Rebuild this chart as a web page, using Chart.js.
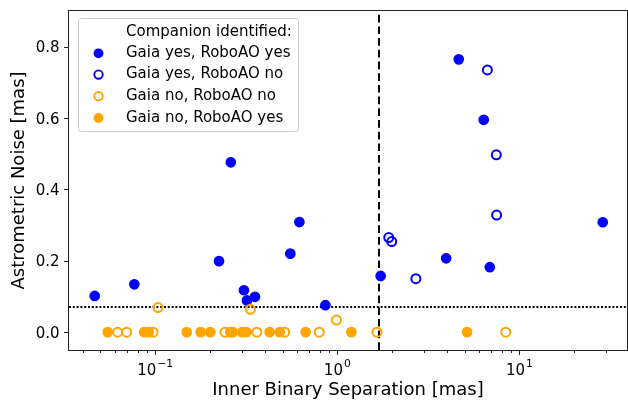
<!DOCTYPE html>
<html>
<head>
<meta charset="utf-8">
<script src="https://cdn.jsdelivr.net/npm/chart.js@4"></script>
<style>
html,body{margin:0;padding:0;background:#fff;}
#wrap{width:628px;height:402px;}
</style>
</head>
<body>
<div id="wrap"><canvas id="c" width="628" height="402"></canvas></div>
<script>
// ---- data ----
const seriesNames = ["Gaia yes, RoboAO yes", "Gaia yes, RoboAO no", "Gaia no, RoboAO no", "Gaia no, RoboAO yes"];
const legendTitle = "Companion identified:";

const gyryX = [0.0465, 0.0768, 0.224, 0.260, 0.307, 0.319, 0.353, 0.552, 0.619, 0.860, 1.73, 3.96, 4.645, 6.37, 6.88, 28.7];
const gyryY = [0.1015, 0.134, 0.199, 0.476, 0.1175, 0.089, 0.099, 0.220, 0.3085, 0.0755, 0.1575, 0.207, 0.7645, 0.595, 0.182, 0.308];

const gyrnX = [1.916, 1.99, 2.70, 6.67, 7.47, 7.50];
const gyrnY = [0.265, 0.254, 0.150, 0.735, 0.497, 0.328];

const gnrnX = [0.0622, 0.0697, 0.0974, 0.2415, 0.3615, 0.514, 0.795, 1.652, 8.42, 0.1035, 0.333, 0.989];
const gnrnY = [0, 0, 0, 0, 0, 0, 0, 0, 0, 0.069, 0.064, 0.034];

const gnryX = [0.0548, 0.0869, 0.092, 0.1488, 0.1776, 0.2003, 0.258, 0.266, 0.2996, 0.3166, 0.425, 0.4826, 0.6705, 1.195, 5.16];
const gnryY = [0, 0, 0, 0, 0, 0, 0, 0, 0, 0, 0, 0, 0, 0, 0];

const xMajorTicks = [0.1, 1, 10];
const xTickBase = ["10", "10", "10"];
const xTickExp = ["\u22121", "0", "1"];
const yTicks = [0.0, 0.2, 0.4, 0.6, 0.8];
const yTickLabels = ["0.0", "0.2", "0.4", "0.6", "0.8"];
const xRange = [0.0336, 39];
const yRange = [-0.05, 0.9];
const vLineX = [1.69];
const hLineY = [0.07];

const xTitle = "Inner Binary Separation [mas]";
const yTitle = "Astrometric Noise [mas]";

const BLUE = "#0000ff", ORANGE = "#ffa500";

function pts(xs, ys){ return xs.map((x,i)=>({x:x, y:ys[i]})); }

// minor ticks for log axis (2..9 x decade)
const xMinorTicks = [];
for (let e = -2; e <= 1; e++) for (let m = 2; m <= 9; m++) {
  const v = m * Math.pow(10, e);
  if (v >= xRange[0] && v <= xRange[1]) xMinorTicks.push(v);
}

const styles = [
  {color: BLUE, filled: true},
  {color: BLUE, filled: false},
  {color: ORANGE, filled: false},
  {color: ORANGE, filled: true}
];

const dataSets = [pts(gyryX, gyryY), pts(gyrnX, gyrnY), pts(gnrnX, gnrnY), pts(gnryX, gnryY)];

const datasets = dataSets.map((d, i) => ({
  label: seriesNames[i],
  data: d,
  order: 4 - i,
  pointRadius: styles[i].filled ? 4.7 : 4.5,
  pointHoverRadius: styles[i].filled ? 4.7 : 4.5,
  pointBorderWidth: styles[i].filled ? 1.3 : 2,
  pointBackgroundColor: styles[i].filled ? styles[i].color : "rgba(0,0,0,0)",
  pointBorderColor: styles[i].color,
  showLine: false
}));

const FONT = "'DejaVu Sans', sans-serif";
const TICK_SIZE = 15;

const decorPlugin = {
  id: 'decor',
  beforeDatasetsDraw(chart) {
    const {ctx, chartArea: a, scales: {x, y}} = chart;
    ctx.save();
    ctx.beginPath(); ctx.rect(a.left, a.top, a.right - a.left, a.bottom - a.top); ctx.clip();
    ctx.strokeStyle = "#000";
    // vertical dashed line (drawn bottom -> top)
    ctx.lineWidth = 2; ctx.setLineDash([7.7, 4]);
    vLineX.forEach(v => {
      const px = Math.round(x.getPixelForValue(v));
      ctx.beginPath(); ctx.moveTo(px, a.bottom); ctx.lineTo(px, a.top); ctx.stroke();
    });
    // horizontal dotted line
    ctx.lineWidth = 2; ctx.setLineDash([2, 1.8]);
    hLineY.forEach(v => {
      const py = Math.round(y.getPixelForValue(v));
      ctx.beginPath(); ctx.moveTo(a.left, py); ctx.lineTo(a.right, py); ctx.stroke();
    });
    ctx.restore();
  },
  afterDraw(chart) {
    const {ctx, chartArea: a, scales: {x, y}} = chart;
    ctx.save();
    // frame
    ctx.strokeStyle = "#222"; ctx.lineWidth = 1; ctx.setLineDash([]);
    ctx.strokeRect(Math.round(a.left) - 0.5, Math.round(a.top) - 0.5, Math.round(a.right - a.left) + 1, Math.round(a.bottom - a.top) + 1);
    // tick marks
    ctx.beginPath();
    xMajorTicks.forEach(v => { const px = Math.round(x.getPixelForValue(v)) + 0.5; ctx.moveTo(px, a.bottom); ctx.lineTo(px, a.bottom + 5); });
    xMinorTicks.forEach(v => { const px = Math.round(x.getPixelForValue(v)) + 0.5; ctx.moveTo(px, a.bottom); ctx.lineTo(px, a.bottom + 3); });
    yTicks.forEach(v => { const py = Math.round(y.getPixelForValue(v)) + 0.5; ctx.moveTo(a.left, py); ctx.lineTo(a.left - 5, py); });
    ctx.stroke();

    // tick labels
    ctx.fillStyle = "#000";
    ctx.textBaseline = "alphabetic";
    ctx.font = TICK_SIZE + "px " + FONT;
    ctx.textAlign = "right";
    yTicks.forEach((v, i) => {
      const py = y.getPixelForValue(v);
      ctx.fillText(yTickLabels[i], a.left - 9.5, py + 0.364 * TICK_SIZE);
    });
    ctx.textAlign = "left";
    const SUP = 10.8;
    xMajorTicks.forEach((v, i) => {
      const px = x.getPixelForValue(v);
      ctx.font = TICK_SIZE + "px " + FONT;
      const wb = ctx.measureText(xTickBase[i]).width;
      ctx.font = SUP + "px " + FONT;
      const we = ctx.measureText(xTickExp[i]).width;
      const gap = 1;
      const x0 = px - (wb + gap + we) / 2;
      ctx.font = TICK_SIZE + "px " + FONT;
      ctx.fillText(xTickBase[i], x0, a.bottom + 25);
      ctx.font = SUP + "px " + FONT;
      ctx.fillText(xTickExp[i], x0 + wb + gap, a.bottom + 17.3);
    });

    // legend
    const L = 78, T = 18.5, W = 220, H = 113;
    ctx.fillStyle = "rgba(255,255,255,0.8)";
    ctx.strokeStyle = "#cccccc"; ctx.lineWidth = 1;
    ctx.beginPath();
    if (ctx.roundRect) ctx.roundRect(L + 0.5, T, W, H, 3); else ctx.rect(L + 0.5, T, W, H);
    ctx.fill(); ctx.stroke();
    ctx.font = "15px " + FONT;
    ctx.fillStyle = "#000";
    ctx.textBaseline = "middle";
    ctx.textAlign = "left";
    const rowY = [31.7, 53.3, 74.6, 96.2, 118.0];
    const textX = 126, markX = 98.5;
    ctx.fillText(legendTitle, textX, rowY[0]);
    seriesNames.forEach((n, i) => {
      const yy = rowY[i + 1];
      ctx.fillStyle = "#000";
      ctx.fillText(n, textX, yy);
      ctx.beginPath();
      ctx.arc(markX, yy, styles[i].filled ? 4.9 : 4.2, 0, Math.PI * 2);
      if (styles[i].filled) { ctx.fillStyle = styles[i].color; ctx.fill(); }
      else { ctx.strokeStyle = styles[i].color; ctx.lineWidth = 1.9; ctx.stroke(); }
    });
    ctx.restore();
  }
};

function zeroPad(scale) { scale.paddingTop = 0; scale.paddingBottom = 0; scale.paddingLeft = 0; scale.paddingRight = 0; }

new Chart(document.getElementById('c'), {
  type: 'scatter',
  data: { datasets },
  options: {
    responsive: false,
    animation: false,
    devicePixelRatio: 1,
    layout: { autoPadding: false, padding: { left: 0, right: 1, top: 11, bottom: 0 } },
    plugins: { legend: { display: false }, tooltip: { enabled: false } },
    scales: {
      x: {
        type: 'logarithmic',
        min: xRange[0], max: xRange[1],
        grid: { display: false, drawTicks: false },
        border: { display: false },
        afterBuildTicks(scale) { scale.ticks = xMajorTicks.map(v => ({ value: v })); },
        afterFit(scale) { scale.height = 52; zeroPad(scale); },
        ticks: { display: false },
        title: { display: true, text: xTitle, color: "#000", font: { family: FONT, size: 18 }, padding: { top: 0, bottom: 1 } }
      },
      y: {
        type: 'linear',
        min: yRange[0], max: yRange[1],
        grid: { display: false, drawTicks: false },
        border: { display: false },
        afterBuildTicks(scale) { scale.ticks = yTicks.map(v => ({ value: v })); },
        afterFit(scale) { scale.width = 69; zeroPad(scale); },
        ticks: { display: false },
        title: { display: true, text: yTitle, color: "#000", font: { family: FONT, size: 18 }, padding: { top: 9, bottom: 0 } }
      }
    }
  },
  plugins: [decorPlugin]
});
</script>
</body>
</html>
